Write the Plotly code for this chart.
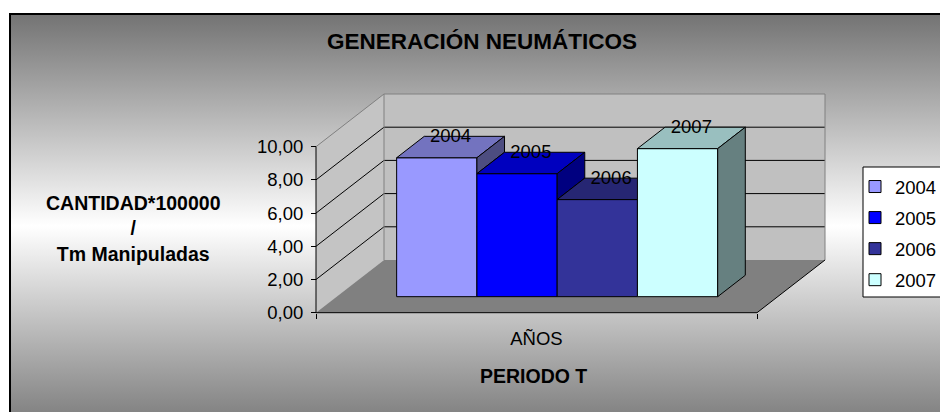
import base64
import plotly.graph_objects as go

# ---------------- data ----------------
years = ["2004", "2005", "2006", "2007"]
values = [8.37, 7.41, 5.85, 8.92]
category = "AÑOS"
y_ticks = [0, 2, 4, 6, 8, 10]
front_colors = ["#9999FF", "#0000FF", "#333399", "#CCFFFF"]
top_colors = ["#7373BF", "#0000BF", "#262673", "#99BFBF"]
side_colors = ["#4D4D80", "#000080", "#1A1A4D", "#668080"]

title_text = "GENERACIÓN NEUMÁTICOS"
y_title = "CANTIDAD*100000<br>/<br>Tm Manipuladas"
x_title = "PERIODO T"

# ---------------- layout geometry (pixels) ----------------
FIG_W, FIG_H = 940, 412
X0_PX, X1_PX = 316.0, 757.0      # front-left / front-right floor corners
Y0_PX = 312.7                    # value 0 on the front axis
PXU = 16.6                       # pixels per value unit
DEPTH_PX = (68.0, 52.7)          # oblique depth offset (right, up)
D_FRONT, D_BACK = 0.304, 0.71    # bar depth fractions
GROUP_FRAC = 0.728               # share of category width used by bars

SX = X1_PX - X0_PX
xr = [-X0_PX / SX, (FIG_W - X0_PX) / SX]
yr = [-(FIG_H - Y0_PX) / PXU, Y0_PX / PXU]
DX = DEPTH_PX[0] / SX
DY = DEPTH_PX[1] / PXU
TOP = max(y_ticks)

FONT = "Liberation Sans, Arial, sans-serif"

fig = go.Figure()

def poly(xs, ys, fill, axis="", line_color="black", width=1):
    return go.Scatter(
        x=xs, y=ys, mode="lines", fill="toself",
        fillcolor=fill, line=dict(color=line_color, width=width),
        hoverinfo="skip", showlegend=False,
        xaxis="x" + axis, yaxis="y" + axis,
    )

# walls and floor
fig.add_trace(poly([0, 0, DX, DX, 0], [0, TOP, TOP + DY, DY, 0], "#C4C4C4", width=0))
fig.add_trace(poly([DX, 1 + DX, 1 + DX, DX, DX], [DY, DY, TOP + DY, TOP + DY, DY], "#C0C0C0", width=0))
fig.add_trace(poly([0, 1, 1 + DX, DX, 0], [0, 0, DY, DY, 0], "#808080", width=0))

# gridlines
gx, gy = [], []
for v in y_ticks[1:-1]:
    gx += [0, DX, 1 + DX, None]
    gy += [v, v + DY, v + DY, None]
fig.add_trace(go.Scatter(x=gx, y=gy, mode="lines", line=dict(color="black", width=1),
                         hoverinfo="skip", showlegend=False))
# gray wall edges
ex = [0, DX, 1 + DX, 1 + DX, None, DX, DX]
ey = [TOP, TOP + DY, TOP + DY, DY, None, DY, TOP + DY]
fig.add_trace(go.Scatter(x=ex, y=ey, mode="lines", line=dict(color="#808080", width=1),
                         hoverinfo="skip", showlegend=False))
# black axis edges
fig.add_trace(go.Scatter(x=[0, 0, 1, 1 + DX], y=[TOP, 0, 0, DY], mode="lines",
                         line=dict(color="black", width=1), hoverinfo="skip", showlegend=False))

# bars
n = len(values)
bw = GROUP_FRAC / n
margin = (1 - GROUP_FRAC) / 2
base = D_FRONT * DY
ddx = (D_BACK - D_FRONT) * DX
ddy = (D_BACK - D_FRONT) * DY
label_x, label_y = [], []
for i, (yr_name, v) in enumerate(zip(years, values)):
    ax = str(i + 2)
    xl = D_FRONT * DX + margin + i * bw
    xrgt = xl + bw
    fig.add_trace(go.Bar(
        x=[xl + bw / 2], y=[v], base=[base], width=[bw], name=yr_name,
        legendgroup=yr_name,
        marker=dict(color=front_colors[i], line=dict(color="black", width=1)),
        hoverinfo="skip", xaxis="x" + ax, yaxis="y" + ax,
    ))
    # top face
    fig.add_trace(poly([xl, xrgt, xrgt + ddx, xl + ddx, xl],
                       [base + v, base + v, base + v + ddy, base + v + ddy, base + v],
                       top_colors[i], axis=ax))
    # visible part of the right side face
    nxt = values[i + 1] if i + 1 < n else 0
    if v > nxt:
        fig.add_trace(poly([xrgt, xrgt, xrgt + ddx, xrgt + ddx, xrgt],
                           [base + nxt, base + v, base + v + ddy, base + nxt + ddy, base + nxt],
                           side_colors[i], axis=ax))
    label_x.append(xl + bw / 2 + ddx / 2)
    label_y.append(base + v + ddy / 2)

last = str(n + 1)
fig.add_trace(go.Scatter(
    x=label_x, y=label_y, text=years, mode="text", textposition="top center",
    textfont=dict(family=FONT, size=18.5, color="black"),
    hoverinfo="skip", showlegend=False, xaxis="x" + last, yaxis="y" + last,
))

# background gradient with border
bg_w, bg_h = 940, 426
svg = (
    f"<svg xmlns='http://www.w3.org/2000/svg' width='{bg_w}' height='{bg_h}' "
    f"viewBox='0 0 {bg_w} {bg_h}' preserveAspectRatio='none'>"
    "<defs><linearGradient id='g' x1='0' y1='0' x2='0' y2='1'>"
    "<stop offset='0' stop-color='#737373'/><stop offset='0.5' stop-color='#ffffff'/>"
    "<stop offset='1' stop-color='#737373'/></linearGradient></defs>"
    f"<rect x='1' y='1' width='{bg_w - 2}' height='{bg_h - 2}' fill='url(#g)' "
    "stroke='#000000' stroke-width='2'/></svg>"
)
src = "data:image/svg+xml;base64," + base64.b64encode(svg.encode()).decode()

LEG_BOX = (863, 167, 960, 297)   # legend frame in pixels

layout = dict(
    width=FIG_W, height=FIG_H,
    margin=dict(l=0, r=0, t=0, b=0, pad=0, autoexpand=False),
    paper_bgcolor="white", plot_bgcolor="rgba(0,0,0,0)",
    separators=",.",
    barmode="overlay",
    showlegend=True,
    font=dict(family=FONT, color="black"),
    images=[dict(source=src, xref="paper", yref="paper", x=9 / FIG_W, y=1 - 13 / FIG_H,
                 sizex=bg_w / FIG_W, sizey=bg_h / FIG_H, sizing="stretch",
                 xanchor="left", yanchor="top", layer="below")],
    shapes=[dict(type="rect", xref="paper", yref="paper",
                 x0=LEG_BOX[0] / FIG_W, x1=LEG_BOX[2] / FIG_W,
                 y0=1 - LEG_BOX[3] / FIG_H, y1=1 - LEG_BOX[1] / FIG_H,
                 fillcolor="white", line=dict(color="black", width=1), layer="above")],
    xaxis=dict(range=xr, anchor="free", position=(FIG_H - Y0_PX) / FIG_H,
               tickmode="array", tickvals=[0.5], ticktext=[category], ticks="",
               showline=False, showgrid=False, zeroline=False,
               tickfont=dict(size=18.5, color="black"), ticklabelstandoff=13,
               minor=dict(tickmode="array", tickvals=[0, 1], ticks="outside", ticklen=5,
                          tickcolor="black", tickwidth=1, showgrid=False)),
    yaxis=dict(range=yr, anchor="free", position=X0_PX / FIG_W,
               tickmode="array", tickvals=y_ticks, tickformat=".2f",
               ticks="outside", ticklen=5, tickcolor="black", tickwidth=1,
               showline=False, showgrid=False, zeroline=False,
               tickfont=dict(size=18.5, color="black"), ticklabelstandoff=4),
    legend=dict(x=855 / FIG_W, y=1 - 168 / FIG_H, xanchor="left", yanchor="top",
                bgcolor="rgba(0,0,0,0)", borderwidth=0,
                font=dict(size=18.5, color="black"), tracegroupgap=4,
                traceorder="grouped"),
    annotations=[
        dict(text="<b>" + title_text + "</b>", xref="paper", yref="paper",
             x=481.5 / FIG_W, y=1 - 42 / FIG_H, showarrow=False,
             xanchor="center", yanchor="middle", font=dict(size=22.5, color="black")),
        dict(text="<b>" + y_title + "</b>", xref="paper", yref="paper",
             x=133 / FIG_W, y=1 - 228 / FIG_H, showarrow=False,
             xanchor="center", yanchor="middle", align="center",
             font=dict(size=19.5, color="black")),
        dict(text="<b>" + x_title + "</b>", xref="paper", yref="paper",
             x=533 / FIG_W, y=1 - 376 / FIG_H, showarrow=False,
             xanchor="center", yanchor="middle", font=dict(size=19.5, color="black")),
    ],
)
for i in range(2, n + 2):
    layout[f"xaxis{i}"] = dict(overlaying="x", range=xr, visible=False, anchor=f"y{i}")
    layout[f"yaxis{i}"] = dict(overlaying="y", range=yr, visible=False, anchor=f"x{i}")

fig.update_layout(**layout)
fig.write_html("out.html", post_script="document.body.style.margin='0';",
               config={"displayModeBar": False})
